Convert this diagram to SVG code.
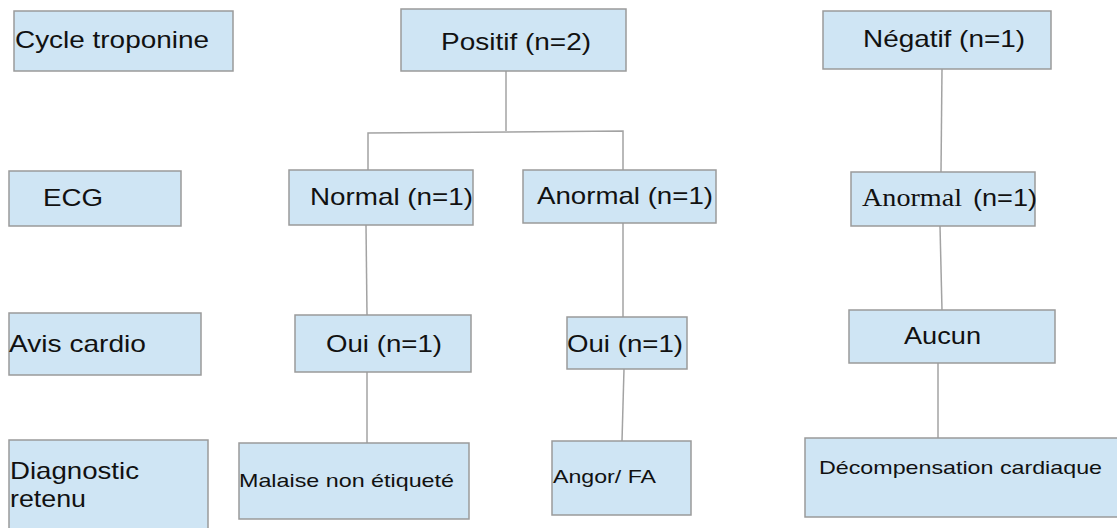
<svg xmlns="http://www.w3.org/2000/svg" width="1117" height="528" viewBox="0 0 1117 528">
<style>
.box{fill:#cfe5f4;stroke:#9a9a9a;stroke-width:1.5}
.t{font-family:"Liberation Sans",Arial,sans-serif;font-size:24px;fill:#111}
.s{font-family:"Liberation Sans",Arial,sans-serif;font-size:19px;fill:#111}
.serif{font-family:"Liberation Serif","Times New Roman",serif;font-size:25px}
.c{fill:none;stroke:#a3a3a3;stroke-width:1.5}
</style>
<rect width="1117" height="528" fill="#ffffff"/>
<g id="connectors">
<polyline class="c" points="506,71 506,131"/>
<polyline class="c" points="368,170 368,133 623,131 623,170"/>
<polyline class="c" points="942,69 941,172"/>
<polyline class="c" points="366,225 367,315"/>
<polyline class="c" points="367,372 367,443"/>
<polyline class="c" points="623,223 623,317"/>
<polyline class="c" points="624,369 622,441"/>
<polyline class="c" points="940,226 942,310"/>
<polyline class="c" points="938,363 938,438"/>
</g>
<g id="n-cycle"><rect class="box" x="14" y="11" width="219" height="60"/><text class="t" x="15" y="48" textLength="194" lengthAdjust="spacingAndGlyphs">Cycle troponine</text></g>
<g id="n-positif"><rect class="box" x="401" y="9" width="225" height="62"/><text class="t" x="441" y="50" textLength="150" lengthAdjust="spacingAndGlyphs">Positif (n=2)</text></g>
<g id="n-negatif"><rect class="box" x="823" y="11" width="228" height="58"/><text class="t" x="863" y="47" textLength="162" lengthAdjust="spacingAndGlyphs">Négatif (n=1)</text></g>
<g id="n-ecg"><rect class="box" x="9" y="171" width="172" height="55"/><text class="t" x="43" y="206" textLength="60" lengthAdjust="spacingAndGlyphs">ECG</text></g>
<g id="n-normal"><rect class="box" x="289" y="170" width="184" height="55"/><text class="t" x="310" y="205" textLength="163" lengthAdjust="spacingAndGlyphs">Normal (n=1)</text></g>
<g id="n-anormal1"><rect class="box" x="523" y="170" width="193" height="53"/><text class="t" x="537" y="204" textLength="176" lengthAdjust="spacingAndGlyphs">Anormal (n=1)</text></g>
<g id="n-anormal2"><rect class="box" x="851" y="172" width="184" height="54"/><text class="t" x="862" y="206"><tspan class="serif" textLength="100" lengthAdjust="spacingAndGlyphs">Anormal</tspan><tspan x="973" textLength="64" lengthAdjust="spacingAndGlyphs">(n=1)</tspan></text></g>
<g id="n-avis"><rect class="box" x="9" y="313" width="192" height="62"/><text class="t" x="9" y="352" textLength="137" lengthAdjust="spacingAndGlyphs">Avis cardio</text></g>
<g id="n-oui1"><rect class="box" x="295" y="315" width="176" height="57"/><text class="t" x="326" y="352" textLength="116" lengthAdjust="spacingAndGlyphs">Oui (n=1)</text></g>
<g id="n-oui2"><rect class="box" x="567" y="317" width="120" height="52"/><text class="t" x="567" y="352" textLength="116" lengthAdjust="spacingAndGlyphs">Oui (n=1)</text></g>
<g id="n-aucun"><rect class="box" x="849" y="310" width="206" height="53"/><text class="t" x="904" y="344" textLength="77" lengthAdjust="spacingAndGlyphs">Aucun</text></g>
<g id="n-diag"><rect class="box" x="9" y="440" width="199" height="92"/><text class="t" x="10" y="479" textLength="129" lengthAdjust="spacingAndGlyphs">Diagnostic</text><text class="t" x="10" y="507" textLength="76" lengthAdjust="spacingAndGlyphs">retenu</text></g>
<g id="n-malaise"><rect class="box" x="239" y="443" width="230" height="76"/><text class="s" x="239" y="487" textLength="215" lengthAdjust="spacingAndGlyphs">Malaise non étiqueté</text></g>
<g id="n-angor"><rect class="box" x="552" y="441" width="139" height="74"/><text class="s" x="553" y="483" textLength="103" lengthAdjust="spacingAndGlyphs">Angor/ FA</text></g>
<g id="n-decomp"><rect class="box" x="805" y="438" width="320" height="79"/><text class="s" x="819" y="474" textLength="283" lengthAdjust="spacingAndGlyphs">Décompensation cardiaque</text></g>
</svg>
